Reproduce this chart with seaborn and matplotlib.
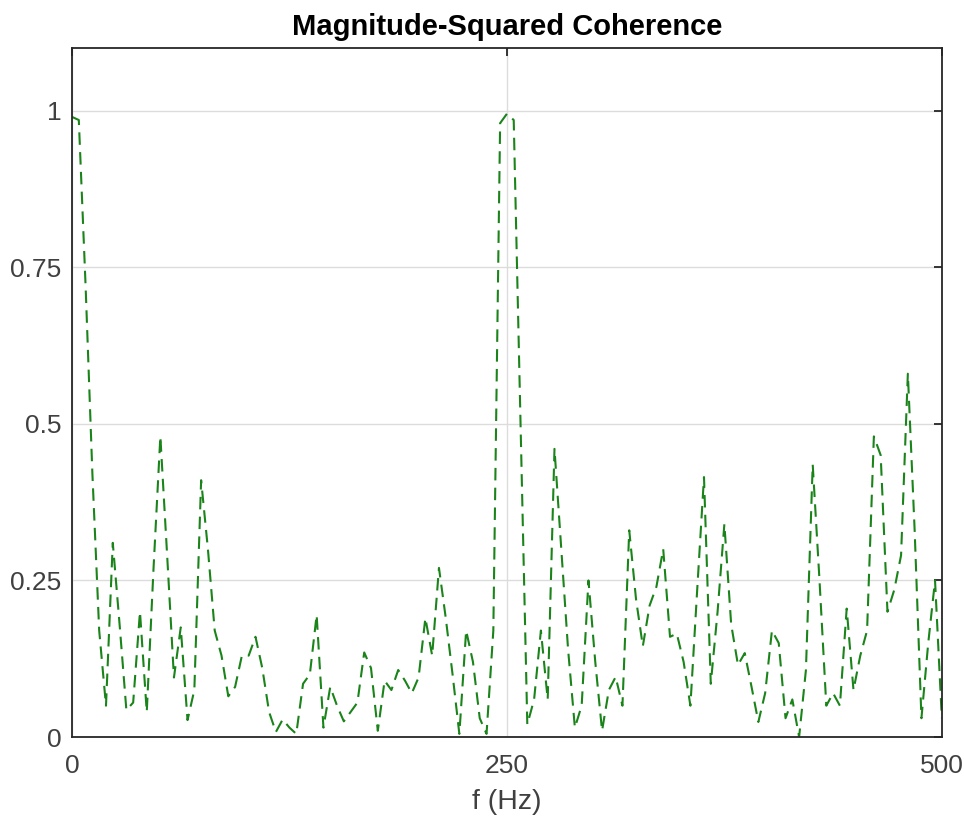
import numpy as np
import pandas as pd
import matplotlib
matplotlib.use("Agg")
import matplotlib.pyplot as plt
import seaborn as sns

# frequency bins: 129 bins, fs = 1000 Hz, nfft = 256
freq_step = 1000 / 256
coherence = [
    0.99, 0.985, 0.72, 0.42, 0.17, 0.05, 0.31, 0.18, 0.043, 0.055,
    0.20, 0.04, 0.27, 0.48, 0.29, 0.095, 0.175, 0.027, 0.075, 0.41,
    0.30, 0.17, 0.13, 0.065, 0.08, 0.13, 0.13, 0.16, 0.11, 0.04,
    0.008, 0.028, 0.015, 0.005, 0.085, 0.10, 0.195, 0.015, 0.08, 0.05,
    0.025, 0.04, 0.055, 0.135, 0.11, 0.01, 0.09, 0.075, 0.107, 0.09,
    0.07, 0.095, 0.19, 0.13, 0.27, 0.19, 0.10, 0.005, 0.17, 0.12,
    0.03, 0.005, 0.17, 0.98, 0.995, 0.985, 0.50, 0.02, 0.06, 0.17,
    0.06, 0.46, 0.30, 0.14, 0.015, 0.05, 0.25, 0.12, 0.01, 0.075,
    0.096, 0.05, 0.33, 0.22, 0.145, 0.21, 0.24, 0.30, 0.16, 0.165,
    0.12, 0.05, 0.235, 0.415, 0.085, 0.20, 0.34, 0.18, 0.115, 0.134,
    0.08, 0.024, 0.07, 0.17, 0.15, 0.03, 0.06, 0.0, 0.107, 0.435,
    0.25, 0.05, 0.07, 0.05, 0.205, 0.075, 0.13, 0.17, 0.48, 0.45,
    0.20, 0.235, 0.29, 0.58, 0.33, 0.03, 0.15, 0.25, 0.03,
]
freqs = [i * freq_step for i in range(len(coherence))]
x_ticks = [0, 250, 500]
y_ticks = [0, 0.25, 0.5, 0.75, 1]
y_tick_labels = ["0", "0.25", "0.5", "0.75", "1"]

df = pd.DataFrame({"f": freqs, "Cxy": coherence})

sns.set_style("white")
plt.rcParams['font.family'] = ['Liberation Sans', 'DejaVu Sans']

fig = plt.figure(figsize=(9.64, 8.19), dpi=100)
ax = fig.add_axes([0.0747, 0.1001, 0.9023, 0.8413])

sns.lineplot(data=df, x="f", y="Cxy", ax=ax, color="#1a841a",
             linestyle=(0, (6, 3.5)), linewidth=1.5)

ax.set_xlim(0, 500)
ax.set_ylim(0, 1.1)
ax.set_xticks(x_ticks)
ax.set_yticks(y_ticks)
ax.set_yticklabels(y_tick_labels)
ax.grid(True, color="#dcdcdc", linewidth=1.0)
ax.set_axisbelow(True)

axis_col = "#262626"
for s in ax.spines.values():
    s.set_visible(True)
    s.set_color(axis_col)
    s.set_linewidth(1.3)
ax.tick_params(direction="in", length=6, width=1.3, colors=axis_col,
               labelsize=19, top=True, right=True)
ax.tick_params(axis="x", pad=12)
ax.tick_params(axis="y", pad=7.5)
for lab in ax.get_xticklabels() + ax.get_yticklabels():
    lab.set_color("#404040")

ax.set_xlabel("f (Hz)", fontsize=20.5, color="#404040", labelpad=8)
ax.set_ylabel("")
ax.set_title("Magnitude-Squared Coherence", fontsize=21, fontweight="bold",
             color="black", pad=9)

fig.savefig("out.png", dpi=100)
